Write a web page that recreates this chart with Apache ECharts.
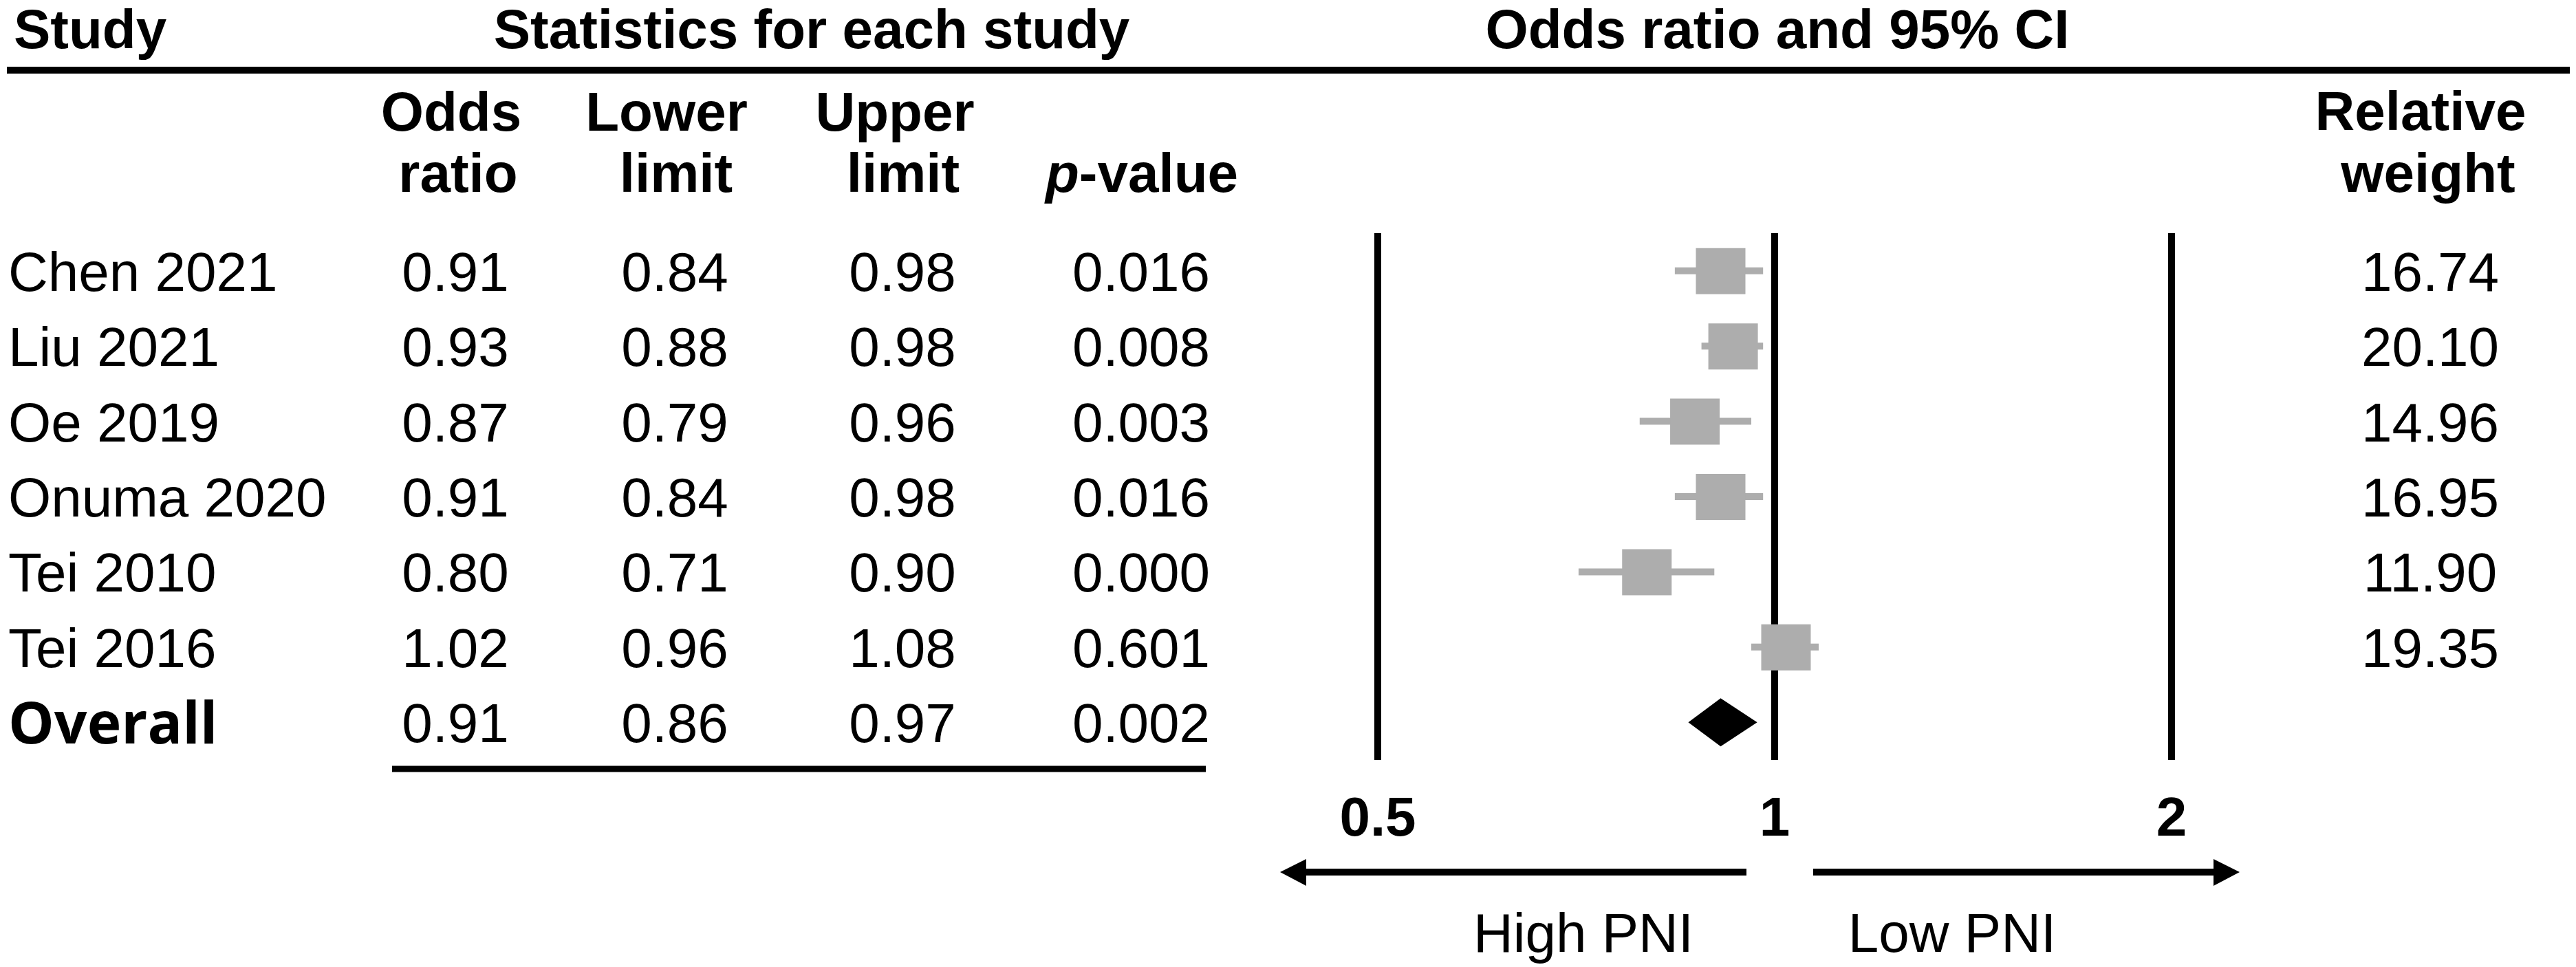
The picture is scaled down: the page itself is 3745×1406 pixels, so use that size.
<!DOCTYPE html>
<html>
<head>
<meta charset="utf-8">
<script src="https://cdn.jsdelivr.net/npm/echarts@6/dist/echarts.min.js"></script>
<style>
  html, body { margin: 0; padding: 0; background: #fff; }
  #chart { width: 3745px; height: 1406px; }
</style>
</head>
<body>
<div id="chart"></div>
<script>
// data
const studies = ['Chen 2021', 'Liu 2021', 'Oe 2019', 'Onuma 2020', 'Tei 2010', 'Tei 2016', 'Overall'];
const oddsRatio = [0.91, 0.93, 0.87, 0.91, 0.80, 1.02, 0.91];
const lowerLimit = [0.84, 0.88, 0.79, 0.84, 0.71, 0.96, 0.86];
const upperLimit = [0.98, 0.98, 0.96, 0.98, 0.90, 1.08, 0.97];
const pValue = ['0.016', '0.008', '0.003', '0.016', '0.000', '0.601', '0.002'];
const relWeight = ['16.74', '20.10', '14.96', '16.95', '11.90', '19.35', ''];
const xTicks = [0.5, 1, 2];

const FONT = '"Liberation Sans", Arial, sans-serif';
const FS = 80;
const GRAY = '#adadad';

const gridLeft = 2003, gridRight = 3157, gridTop = 339, gridBottom = 1105;

const myChart = echarts.init(document.getElementById('chart'));

// one hidden category axis per table column, all sharing the grid's rows
function columnAxis(x, align, values, position) {
  const offset = position === 'right' ? x - gridRight : gridLeft - x;
  return {
    type: 'category',
    gridIndex: 0,
    position: position || 'left',
    offset: offset,
    inverse: true,
    data: studies,
    axisLine: { show: false },
    axisTick: { show: false },
    splitLine: { show: false },
    axisLabel: {
      interval: 0,
      margin: 0,
      align: align,
      padding: [14, 0, 0, 0],
      color: '#000',
      fontFamily: FONT,
      fontSize: FS,
      formatter: (v, i) => (i === studies.length - 1 && values === studies) ? '{b|' + values[i] + '}' : values[i],
      rich: {
        b: { fontFamily: '"Open Sans", sans-serif', fontWeight: 'bold', fontSize: 84, color: '#000' }
      }
    }
  };
}

const fmt = arr => arr.map(v => v.toFixed(2));

function headerText(text, x, y, opts) {
  return {
    type: 'text',
    x: x, y: y,
    style: Object.assign({
      text: text,
      fill: '#000',
      font: 'bold ' + FS + 'px ' + FONT,
      align: 'center',
      verticalAlign: 'middle'
    }, opts || {})
  };
}

const option = {
  backgroundColor: '#fff',
  animation: false,
  grid: {
    left: gridLeft,
    top: gridTop,
    width: gridRight - gridLeft,
    height: gridBottom - gridTop,
    containLabel: false,
    outerBoundsMode: 'none'
  },
  xAxis: {
    type: 'log',
    logBase: 2,
    min: xTicks[0],
    max: xTicks[xTicks.length - 1],
    interval: 1,
    axisLine: { show: false },
    axisTick: { show: false },
    splitLine: {
      show: true,
      showMinLine: true,
      showMaxLine: true,
      lineStyle: { color: '#000', width: 10 }
    },
    axisLabel: {
      margin: 48,
      color: '#000',
      fontFamily: FONT,
      fontSize: FS,
      fontWeight: 'bold',
      formatter: v => String(+v.toFixed(2)),
      showMinLabel: true,
      showMaxLabel: true
    }
  },
  yAxis: [
    {
      type: 'category',
      inverse: true,
      data: studies,
      axisLine: { show: false },
      axisTick: { show: false },
      axisLabel: { show: false },
      splitLine: { show: false }
    },
    columnAxis(12, 'left', studies),
    columnAxis(662, 'center', fmt(oddsRatio)),
    columnAxis(981, 'center', fmt(lowerLimit)),
    columnAxis(1312, 'center', fmt(upperLimit)),
    columnAxis(1659, 'center', pValue),
    columnAxis(3533, 'center', relWeight, 'right')
  ],
  series: [
    {
      // study squares with CI bars
      type: 'custom',
      xAxisIndex: 0,
      yAxisIndex: 0,
      encode: { x: [1, 2, 3], y: 0 },
      data: studies.slice(0, -1).map((s, i) => [i, oddsRatio[i], lowerLimit[i], upperLimit[i]]),
      renderItem: function (params, api) {
        const row = api.value(0);
        const c = api.coord([api.value(1), row]);
        const lo = api.coord([api.value(2), row]);
        const hi = api.coord([api.value(3), row]);
        return {
          type: 'group',
          children: [
            { type: 'rect', shape: { x: lo[0], y: c[1] - 5, width: hi[0] - lo[0], height: 10 }, style: { fill: GRAY } },
            { type: 'rect', shape: { x: c[0] - 36, y: c[1] - 33, width: 72, height: 67 }, style: { fill: GRAY } }
          ]
        };
      }
    },
    {
      // pooled estimate diamond
      type: 'custom',
      xAxisIndex: 0,
      yAxisIndex: 0,
      encode: { x: [1, 2, 3], y: 0 },
      data: [[studies.length - 1, oddsRatio[6], lowerLimit[6], upperLimit[6]]],
      renderItem: function (params, api) {
        const row = api.value(0);
        const c = api.coord([api.value(1), row]);
        const lo = api.coord([api.value(2), row]);
        const hi = api.coord([api.value(3), row]);
        return {
          type: 'polygon',
          shape: { points: [[lo[0], c[1]], [c[0], c[1] - 35], [hi[0], c[1]], [c[0], c[1] + 35]] },
          style: { fill: '#000' }
        };
      }
    }
  ],
  graphic: [
    headerText('Study', 20, 48, { align: 'left' }),
    headerText('Statistics for each study', 1180, 48),
    headerText('Odds ratio and 95% CI', 2584, 48),
    { type: 'line', shape: { x1: 10, y1: 102, x2: 3736, y2: 102 }, style: { stroke: '#000', lineWidth: 10 } },
    headerText('Odds', 656, 168),
    headerText('ratio', 666, 257),
    headerText('Lower', 969, 168),
    headerText('limit', 983, 257),
    headerText('Upper', 1301, 168),
    headerText('limit', 1313, 257),
    {
      type: 'text',
      x: 1660, y: 257,
      style: {
        text: '{i|p}{n|-value}',
        align: 'center',
        verticalAlign: 'middle',
        rich: {
          i: { fontFamily: FONT, fontSize: FS, fontWeight: 'bold', fontStyle: 'italic', fill: '#000' },
          n: { fontFamily: FONT, fontSize: FS, fontWeight: 'bold', fill: '#000' }
        }
      }
    },
    headerText('Relative', 3519, 167),
    headerText('weight', 3530, 257),
    { type: 'line', shape: { x1: 570, y1: 1118, x2: 1753, y2: 1118 }, style: { stroke: '#000', lineWidth: 9 } },
    // direction arrows
    { type: 'line', shape: { x1: 2539, y1: 1268, x2: 1895, y2: 1268 }, style: { stroke: '#000', lineWidth: 10 } },
    { type: 'polygon', shape: { points: [[1861, 1268], [1899, 1249], [1899, 1288]] }, style: { fill: '#000' } },
    { type: 'line', shape: { x1: 2636, y1: 1268, x2: 3222, y2: 1268 }, style: { stroke: '#000', lineWidth: 10 } },
    { type: 'polygon', shape: { points: [[3256, 1268], [3218, 1249], [3218, 1288]] }, style: { fill: '#000' } },
    headerText('High PNI', 2302, 1362, { font: FS + 'px ' + FONT }),
    headerText('Low PNI', 2838, 1362, { font: FS + 'px ' + FONT })
  ]
};

myChart.setOption(option);
</script>
</body>
</html>
